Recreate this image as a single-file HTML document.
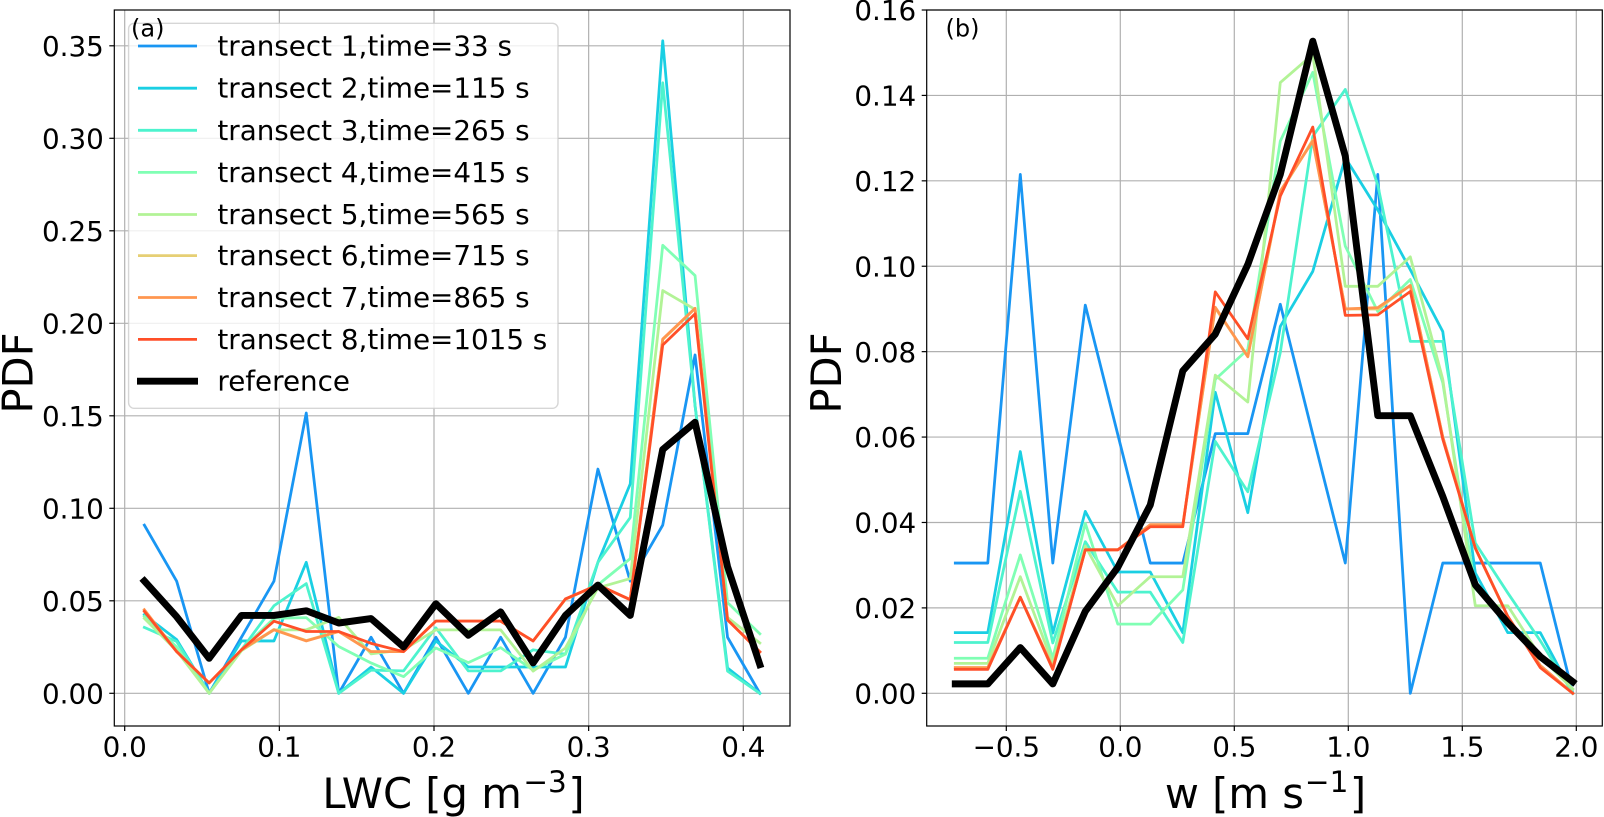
<!DOCTYPE html>
<html lang="en">
<head>
<meta charset="utf-8">
<title>LWC and w PDFs by transect</title>
<style>
  html, body { margin: 0; padding: 0; background: #fff; }
  svg { display: block; }
  text { font-family: "DejaVu Sans", "Liberation Sans", sans-serif; fill: #000; }
</style>
</head>
<body>
<svg id="figure" xmlns="http://www.w3.org/2000/svg" width="1604" height="817" viewBox="0 0 1604 817">
  <rect x="0" y="0" width="1604" height="817" fill="#ffffff"/>
  <g id="panel-a"></g>
  <g id="panel-b"></g>

  <g id="legend">
    <rect x="128.6" y="23.3" width="429.4" height="385" rx="5.5" ry="5.5" fill="#ffffff" fill-opacity="0.8" stroke="#cccccc" stroke-opacity="0.8" stroke-width="1.4"/>
    <g><line x1="139.4" x2="195.6" y1="46" y2="46" stroke="#1996f3" stroke-width="2.8" stroke-linecap="square"/><text x="217.4" y="55.5" font-size="27.78">transect 1,time=33 s</text></g>
    <g><line x1="139.4" x2="195.6" y1="88.2" y2="88.2" stroke="#1acfe3" stroke-width="2.8" stroke-linecap="square"/><text x="217.4" y="97.7" font-size="27.78">transect 2,time=115 s</text></g>
    <g><line x1="139.4" x2="195.6" y1="130.3" y2="130.3" stroke="#4df3ce" stroke-width="2.8" stroke-linecap="square"/><text x="217.4" y="139.8" font-size="27.78">transect 3,time=265 s</text></g>
    <g><line x1="139.4" x2="195.6" y1="172.4" y2="172.4" stroke="#80ffb4" stroke-width="2.8" stroke-linecap="square"/><text x="217.4" y="181.9" font-size="27.78">transect 4,time=415 s</text></g>
    <g><line x1="139.4" x2="195.6" y1="214.5" y2="214.5" stroke="#b2f396" stroke-width="2.8" stroke-linecap="square"/><text x="217.4" y="224" font-size="27.78">transect 5,time=565 s</text></g>
    <g><line x1="139.4" x2="195.6" y1="255.6" y2="255.6" stroke="#e6cf74" stroke-width="2.8" stroke-linecap="square"/><text x="217.4" y="265.1" font-size="27.78">transect 6,time=715 s</text></g>
    <g><line x1="139.4" x2="195.6" y1="297.5" y2="297.5" stroke="#ff964f" stroke-width="2.8" stroke-linecap="square"/><text x="217.4" y="307" font-size="27.78">transect 7,time=865 s</text></g>
    <g><line x1="139.4" x2="195.6" y1="339.4" y2="339.4" stroke="#ff4f28" stroke-width="2.8" stroke-linecap="square"/><text x="217.4" y="348.9" font-size="27.78">transect 8,time=1015 s</text></g>
    <g><line x1="137" x2="198" y1="381.2" y2="381.2" stroke="#000000" stroke-width="6.9"/><text x="217.4" y="390.7" font-size="27.78">reference</text></g>
  </g>

  <text x="131" y="36.5" font-size="24">(a)</text>
  <text x="945.5" y="36.5" font-size="24">(b)</text>

  <text x="453.5" y="808" font-size="41.67" text-anchor="middle">LWC [g m<tspan font-size="29.5" dx="1.5" dy="-16">−3</tspan><tspan dx="1.5" dy="16">]</tspan></text>
  <text x="1265.5" y="808" font-size="41.67" text-anchor="middle">w [m s<tspan font-size="29.5" dx="1" dy="-16">−1</tspan><tspan dx="1.5" dy="16">]</tspan></text>
  <text transform="translate(32.5,373) rotate(-90)" font-size="41.67" text-anchor="middle">PDF</text>
  <text transform="translate(841,373) rotate(-90)" font-size="41.67" text-anchor="middle">PDF</text>
</svg>

<script>
// ---- Panel (a): LWC PDF ----
const lwcBins = [0.0127,0.0336,0.0546,0.0755,0.0965,0.1174,0.1384,0.1593,0.1803,0.2012,0.2222,0.2431,0.2641,0.285,0.306,0.3269,0.3479,0.3688,0.3898,0.4107];
const lwcTransect1 = [0.0909,0.0606,0,0.0303,0.0606,0.1515,0,0.0303,0,0.0303,0,0.0303,0,0.0303,0.1212,0.0606,0.0909,0.1829,0.0303,0];
const lwcTransect2 = [0.0425,0.029,0,0.0283,0.0283,0.0708,0,0.0142,0,0.0283,0.0142,0.0142,0.0142,0.0142,0.0708,0.1132,0.3527,0.1556,0.0137,0];
const lwcTransect3 = [0.0356,0.028,0,0.0236,0.0473,0.0593,0,0.0125,0.0121,0.0354,0.0121,0.0121,0.0235,0.0212,0.0708,0.095,0.33,0.1556,0.012,0];
const lwcTransect4 = [0.0416,0.025,0,0.0236,0.0405,0.0409,0.0253,0.0164,0.009,0.0245,0.0166,0.0247,0.0125,0.0212,0.0586,0.0728,0.2422,0.2258,0.049,0.0322];
const lwcTransect5 = [0.0405,0.023,0,0.023,0.0343,0.0343,0.041,0.0213,0.0235,0.0343,0.0343,0.0343,0.012,0.0245,0.057,0.062,0.2177,0.2075,0.041,0.0272];
const lwcTransect6 = [0.0445,0.0225,0.0056,0.0235,0.0345,0.0285,0.0335,0.0225,0.0225,0.039,0.039,0.039,0.0283,0.0508,0.0586,0.0506,0.1912,0.208,0.0397,0.0224];
const lwcTransect7 = [0.0452,0.0225,0.0056,0.0235,0.0343,0.0283,0.0334,0.0225,0.0225,0.039,0.039,0.039,0.0283,0.051,0.0586,0.0506,0.1915,0.2081,0.0397,0.0224];
const lwcTransect8 = [0.0443,0.0225,0.0056,0.0235,0.039,0.0334,0.0334,0.027,0.0225,0.039,0.039,0.039,0.0283,0.051,0.0586,0.0506,0.1883,0.2051,0.0397,0.0224];
const lwcReference = [0.0607,0.0414,0.0189,0.0421,0.0421,0.0446,0.038,0.0404,0.0251,0.0484,0.0314,0.044,0.0164,0.0421,0.0585,0.0421,0.1318,0.1465,0.0685,0.0155];
const lwcXTicks = [0.0,0.1,0.2,0.3,0.4];
const lwcXTickLabels = ["0.0","0.1","0.2","0.3","0.4"];
const lwcYTicks = [0,0.05,0.1,0.15,0.2,0.25,0.3,0.35];
const lwcYTickLabels = ["0.00","0.05","0.10","0.15","0.20","0.25","0.30","0.35"];

// ---- Panel (b): vertical velocity PDF ----
const wBins = [-0.7237,-0.5812,-0.4386,-0.2961,-0.1535,-0.011,0.1315,0.2741,0.4166,0.5592,0.7017,0.8442,0.9868,1.1293,1.2719,1.4144,1.557,1.6995,1.842,1.9846];
const wTransect1 = [0.0305,0.0305,0.1215,0.0305,0.0909,0.0606,0.0305,0.0305,0.0608,0.0608,0.0911,0.0606,0.0305,0.1215,0,0.0305,0.0305,0.0305,0.0305,0];
const wTransect2 = [0.0142,0.0142,0.0566,0.0141,0.0426,0.0284,0.0284,0.0142,0.0705,0.0423,0.0859,0.0988,0.1254,0.1132,0.0992,0.0847,0.0282,0.0142,0.0142,0];
const wTransect3 = [0.0119,0.0119,0.0473,0.0118,0.0355,0.0237,0.0237,0.0119,0.059,0.0472,0.0798,0.1304,0.1414,0.119,0.0824,0.0824,0.0352,0.0235,0.0123,0];
const wTransect4 = [0.0082,0.0082,0.0324,0.0082,0.0398,0.0162,0.0162,0.0242,0.0735,0.0805,0.1293,0.1454,0.1047,0.0894,0.0969,0.0727,0.0245,0.0165,0.0085,0.001];
const wTransect5 = [0.007,0.007,0.0273,0.007,0.0345,0.0205,0.0273,0.0273,0.0745,0.0682,0.143,0.1496,0.0953,0.0953,0.1022,0.0735,0.0205,0.0205,0.0086,0.001];
const wTransect6 = [0.006,0.006,0.0225,0.006,0.0336,0.0336,0.0393,0.0393,0.0902,0.0789,0.1172,0.1296,0.09,0.09,0.0955,0.06,0.034,0.018,0.0065,0];
const wTransect7 = [0.006,0.006,0.0225,0.006,0.0336,0.0336,0.0395,0.0395,0.0904,0.0788,0.1176,0.1293,0.09,0.0903,0.0955,0.06,0.034,0.018,0.0065,0];
const wTransect8 = [0.0056,0.0056,0.0225,0.0056,0.0336,0.0336,0.039,0.039,0.094,0.083,0.1164,0.1326,0.0885,0.0886,0.0941,0.0595,0.034,0.018,0.006,0];
const wReference = [0.0022,0.0022,0.0107,0.0022,0.0192,0.0295,0.0441,0.0755,0.0841,0.1004,0.1215,0.1527,0.1258,0.065,0.065,0.0461,0.0254,0.0165,0.0086,0.0027];
const wXTicks = [-0.5,0,0.5,1,1.5,2];
const wXTickLabels = ["−0.5","0.0","0.5","1.0","1.5","2.0"];
const wYTicks = [0,0.02,0.04,0.06,0.08,0.1,0.12,0.14,0.16];
const wYTickLabels = ["0.00","0.02","0.04","0.06","0.08","0.10","0.12","0.14","0.16"];

const seriesNames = ["transect-1","transect-2","transect-3","transect-4","transect-5","transect-6","transect-7","transect-8","reference"];
const seriesColors = ["#1996f3","#1acfe3","#4df3ce","#80ffb4","#b2f396","#e6cf74","#ff964f","#ff4f28","#000000"];

const NS = "http://www.w3.org/2000/svg";

function make(tag, parent, attrs) {
  const el = document.createElementNS(NS, tag);
  for (const k in attrs) el.setAttribute(k, attrs[k]);
  parent.appendChild(el);
  return el;
}

function drawPanel(parent, box, xScale, yScale, bins, seriesList, xTicks, xLabels, yTicks, yLabels) {
  // grid
  xTicks.forEach(function (t) {
    const g = make("line", parent, { x1: xScale(t), x2: xScale(t), y1: box.top, y2: box.bottom, stroke: "#b0b0b0", "stroke-width": 1.2 });
    
    
  });
  yTicks.forEach(function (t) {
    const g = make("line", parent, { x1: box.left, x2: box.right, y1: yScale(t), y2: yScale(t), stroke: "#b0b0b0", "stroke-width": 1.2 });
    
    
  });
  // series
  seriesList.forEach(function (vals, idx) {
    const pts = vals.map(function (v, i) { return xScale(bins[i]).toFixed(2) + "," + yScale(v).toFixed(2); }).join(" ");
    const isRef = idx === seriesList.length - 1;
    const p = make("polyline", parent, {
      points: pts, fill: "none", stroke: seriesColors[idx],
      "stroke-width": isRef ? 6.94 : 2.78,
      "stroke-linejoin": "round", "stroke-linecap": "square"
    });
    
    
  });
  // spines
  const frame = make("rect", parent, { x: box.left, y: box.top, width: box.right - box.left, height: box.bottom - box.top, fill: "none", stroke: "#000", "stroke-width": 1.2 });
  
  
  // x ticks
  xTicks.forEach(function (t, i) {
    const m = make("line", parent, { x1: xScale(t), x2: xScale(t), y1: box.bottom, y2: box.bottom + 5, stroke: "#000", "stroke-width": 1.2 });
    
    
    const lab = make("text", parent, { x: xScale(t), y: box.bottom + 30.5, "font-size": 27.78, "text-anchor": "middle" });
    lab.textContent = xLabels[i];
    
    
  });
  // y ticks
  yTicks.forEach(function (t, i) {
    const m = make("line", parent, { x1: box.left - 5, x2: box.left, y1: yScale(t), y2: yScale(t), stroke: "#000", "stroke-width": 1.2 });
    
    
    const lab = make("text", parent, { x: box.left - 10.5, y: yScale(t) + 10.1, "font-size": 27.78, "text-anchor": "end" });
    lab.textContent = yLabels[i];
    
    
  });
}

const boxA = { left: 114.3, right: 790, top: 10, bottom: 726 };
const boxB = { left: 926.7, right: 1602.3, top: 10, bottom: 726 };

function xA(v) { return 124.7 + 1546.5 * v; }
function yA(v) { return 693.3 - 1850 * v; }
function xB(v) { return 1120.3 + 228 * v; }
function yB(v) { return 693.3 - 4270.6 * v; }

drawPanel(document.getElementById("panel-a"), boxA, xA, yA, lwcBins,
  [lwcTransect1, lwcTransect2, lwcTransect3, lwcTransect4, lwcTransect5, lwcTransect6, lwcTransect7, lwcTransect8, lwcReference],
  lwcXTicks, lwcXTickLabels, lwcYTicks, lwcYTickLabels);

drawPanel(document.getElementById("panel-b"), boxB, xB, yB, wBins,
  [wTransect1, wTransect2, wTransect3, wTransect4, wTransect5, wTransect6, wTransect7, wTransect8, wReference],
  wXTicks, wXTickLabels, wYTicks, wYTickLabels);
</script>
</body>
</html>
